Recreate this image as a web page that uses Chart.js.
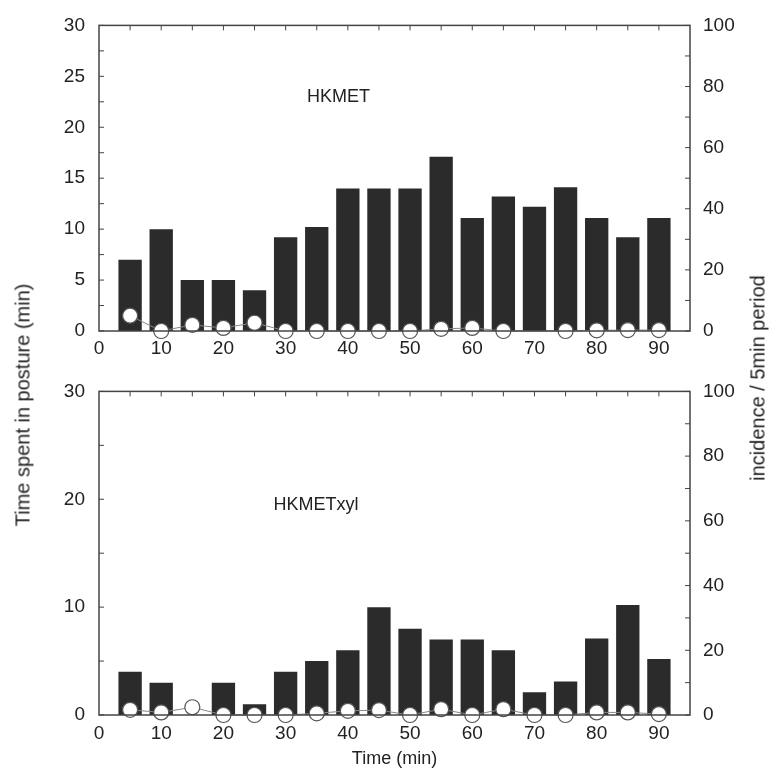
<!DOCTYPE html>
<html>
<head>
<meta charset="utf-8">
<script src="https://cdn.jsdelivr.net/npm/chart.js@4.4.1/dist/chart.umd.min.js"></script>
<style>
  body { margin: 0; background: #fff; width: 771px; height: 773px; position: relative; overflow: hidden;
         font-family: "Liberation Sans", Arial, sans-serif; }
  canvas { position: absolute; left: 0; }
  #top { top: 0; }
  #bottom { top: 366px; }
  .ytitle { position: absolute; font-size: 20px; color: #222; white-space: nowrap;
            transform: translate(-50%, -50%) rotate(-90deg); }
</style>
</head>
<body>
<canvas id="top" width="771" height="366"></canvas>
<canvas id="bottom" width="771" height="407"></canvas>
<div class="ytitle" style="left:23px; top:405px;">Time spent in posture (min)</div>
<div class="ytitle" style="left:758px; top:378px;">incidence / 5min period</div>
<script>
// time (min), one bar per 5 min period
const times = [5, 10, 15, 20, 25, 30, 35, 40, 45, 50, 55, 60, 65, 70, 75, 80, 85, 90];

// HKMET
const hkmetPosture = [7, 10, 5, 5, 4, 9.2, 10.2, 14, 14, 14, 17.1, 11.1, 13.2, 12.2, 14.1, 11.1, 9.2, 11.1];
const hkmetIncidence = [5, 0, 2, 1, 2.7, 0, 0, 0, 0, 0, 0.7, 1, 0, null, 0, 0.2, 0.3, 0.3];

// HKMETxyl
const xylPosture = [4, 3, 0, 3, 1, 4, 5, 6, 10, 8, 7, 7, 6, 2.1, 3.1, 7.1, 10.2, 5.2];
const xylIncidence = [1.6, 0.8, 2.4, 0, 0, 0, 0.5, 1.3, 1.5, 0, 1.8, 0, 1.8, 0, 0, 0.8, 0.8, 0.3];

const xTicks = [0, 10, 20, 30, 40, 50, 60, 70, 80, 90];
const topLeftTicks = [0, 5, 10, 15, 20, 25, 30];
const bottomLeftTicks = [0, 10, 20, 30];
const rightTicks = [0, 20, 40, 60, 80, 100];

const FONT = '"Liberation Sans", Arial, sans-serif';
const INK = '#222';

function seg(ctx, x1, y1, x2, y2) {
  ctx.beginPath();
  ctx.moveTo(x1, y1);
  ctx.lineTo(x2, y2);
  ctx.stroke();
}

// inward tick marks under the data, box and panel label on top
const frame = {
  id: 'frame',
  beforeDatasetsDraw(chart, args, opts) {
    const { ctx, chartArea: a, scales: { x, y, y1 } } = chart;
    ctx.save();
    ctx.strokeStyle = '#444';
    ctx.lineWidth = 1;
    for (let v = 5; v < x.max; v += 5) {
      const px = x.getPixelForValue(v);
      seg(ctx, px, a.bottom, px, a.bottom - 5);
      seg(ctx, px, a.top, px, a.top + 5);
    }
    for (let v = 0; v <= y.max; v += opts.leftStep) {
      const py = y.getPixelForValue(v);
      seg(ctx, a.left, py, a.left + 5, py);
    }
    for (let v = 0; v <= y1.max; v += 10) {
      const py = y1.getPixelForValue(v);
      seg(ctx, a.right, py, a.right - 5, py);
    }
    ctx.restore();
  },
  afterDraw(chart, args, opts) {
    const { ctx, chartArea: a, scales: { x, y } } = chart;
    ctx.save();
    ctx.strokeStyle = '#444';
    ctx.lineWidth = 1.5;
    ctx.strokeRect(a.left, a.top, a.right - a.left, a.bottom - a.top);
    ctx.fillStyle = INK;
    ctx.font = '18px ' + FONT;
    ctx.textAlign = 'center';
    ctx.textBaseline = 'middle';
    ctx.fillText(opts.label, x.getPixelForValue(opts.labelX), y.getPixelForValue(opts.labelY));
    ctx.restore();
  }
};

function makePanel(canvasId, posture, incidence, leftTicks, cfg) {
  const pts = (arr) => times.map((t, i) => ({ x: t, y: arr[i] }));
  const tickFont = { family: FONT, size: 19 };
  return new Chart(document.getElementById(canvasId), {
    type: 'bar',
    data: {
      datasets: [
        {
          type: 'line',
          data: pts(incidence),
          yAxisID: 'y1',
          borderColor: '#888',
          borderWidth: 1,
          pointRadius: 7.5,
          pointBackgroundColor: '#fff',
          pointBorderColor: '#555',
          pointBorderWidth: 1.2,
          spanGaps: true,
          clip: false,
          order: 0
        },
        {
          data: pts(posture),
          yAxisID: 'y',
          backgroundColor: '#2b2b2b',
          barPercentage: 0.75,
          categoryPercentage: 1,
          order: 1
        }
      ]
    },
    options: {
      responsive: false,
      animation: false,
      layout: { padding: { top: cfg.padTop, left: 0, right: 0, bottom: 0 } },
      plugins: {
        legend: { display: false },
        tooltip: { enabled: false },
        frame: { leftStep: cfg.leftStep, label: cfg.label, labelX: cfg.labelX, labelY: cfg.labelY }
      },
      scales: {
        x: {
          type: 'linear',
          offset: false,
          min: 0,
          max: 95,
          grid: { display: false, drawTicks: false, offset: false },
          border: { display: false },
          ticks: { font: tickFont, color: INK, padding: cfg.xPad, maxRotation: 0 },
          afterBuildTicks: (s) => { s.ticks = xTicks.map(v => ({ value: v })); },
          afterFit: (s) => { s.height = cfg.xHeight; },
          title: cfg.xTitle
            ? { display: true, text: cfg.xTitle, font: { family: FONT, size: 18 }, color: INK, padding: { top: 0, bottom: 3 } }
            : { display: false }
        },
        y: {
          position: 'left',
          min: 0,
          max: 30,
          grid: { display: false, drawTicks: false },
          border: { display: false },
          ticks: { font: tickFont, color: INK, padding: 14 },
          afterBuildTicks: (s) => { s.ticks = leftTicks.map(v => ({ value: v })); },
          afterFit: (s) => { s.width = 99; }
        },
        y1: {
          position: 'right',
          min: 0,
          max: 100,
          grid: { display: false, drawTicks: false },
          border: { display: false },
          ticks: { font: tickFont, color: INK, padding: 13 },
          afterBuildTicks: (s) => { s.ticks = rightTicks.map(v => ({ value: v })); },
          afterFit: (s) => { s.width = 81; }
        }
      }
    },
    plugins: [frame]
  });
}

makePanel('top', hkmetPosture, hkmetIncidence, topLeftTicks,
  { padTop: 24, xHeight: 35, xPad: 6, leftStep: 2.5, label: 'HKMET', labelX: 38.5, labelY: 23 });
makePanel('bottom', xylPosture, xylIncidence, bottomLeftTicks,
  { padTop: 21, xHeight: 58, xPad: 7, leftStep: 5, label: 'HKMETxyl', labelX: 34.9, labelY: 19.5, xTitle: 'Time (min)' });
</script>
</body>
</html>
